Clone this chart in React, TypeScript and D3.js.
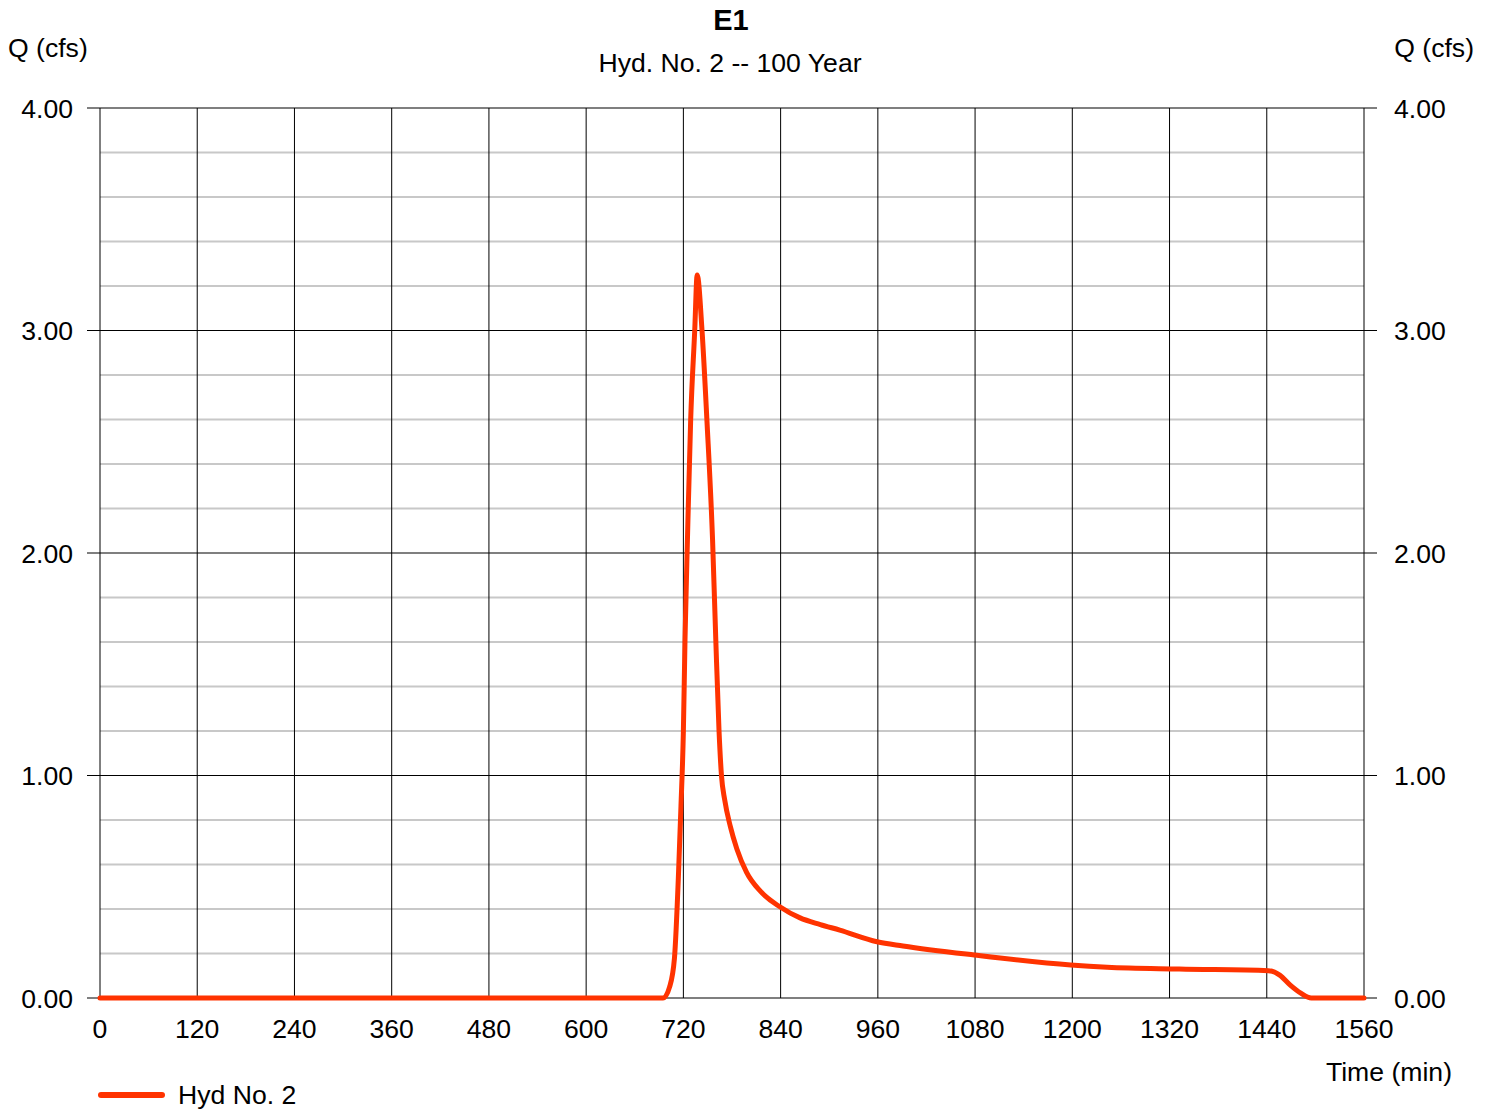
import React from "react";
import * as d3 from "d3";

const title = "E1";
const subtitle = "Hyd. No. 2 -- 100 Year";
const yLabel = "Q (cfs)";
const xLabel = "Time (min)";
const seriesName = "Hyd No. 2";

const xTicks = [0, 120, 240, 360, 480, 600, 720, 840, 960, 1080, 1200, 1320, 1440, 1560];
const yMajor = [0, 1, 2, 3, 4];
const yMinor = [0.2, 0.4, 0.6, 0.8, 1.2, 1.4, 1.6, 1.8, 2.2, 2.4, 2.6, 2.8, 3.2, 3.4, 3.6, 3.8];

const timeMin = [
  0, 695, 703, 709, 714, 717, 720, 722, 725, 729, 734, 737, 743, 749, 756, 760, 764, 767, 771,
  778, 786, 798, 815, 839, 864, 889, 913, 959, 991, 1079, 1198, 1243, 1332, 1442, 1456, 1469,
  1482, 1495, 1560,
];
const flowCfs = [
  0, 0, 0.05, 0.18, 0.56, 0.86, 1.2, 1.61, 2.06, 2.6, 3.0, 3.25, 3.0, 2.6, 2.06, 1.61, 1.2, 1.0, 0.89,
  0.77, 0.67, 0.565, 0.48, 0.41, 0.36, 0.33, 0.305, 0.253, 0.234, 0.193, 0.148, 0.138, 0.13, 0.123,
  0.103, 0.058, 0.022, 0, 0,
];

const W = 1491;
const H = 1110;
const left = 100;
const right = 1364;
const top = 108;
const bottom = 998;
const FONT = "Liberation Sans, Arial, sans-serif";
const RED = "#ff3300";
const FS = 26.6;

export default function App() {
  const x = d3.scaleLinear().domain([0, 1560]).range([left, right]);
  const y = d3.scaleLinear().domain([0, 4]).range([bottom, top]);
  const pts: [number, number][] = timeMin.map((t, i) => [t, flowCfs[i]]);
  const line = d3
    .line<[number, number]>()
    .x((d) => x(d[0]))
    .y((d) => y(d[1]))
    .curve(d3.curveMonotoneX);

  return (
    <svg
      width={W}
      height={H}
      style={{ position: "absolute", left: 0, top: 0, background: "#fff" }}
      fontFamily={FONT}
    >
      <rect x={0} y={0} width={W} height={H} fill="#fff" />
      {yMinor.map((v) => (
        <line key={"mn" + v} x1={left} x2={right} y1={y(v)} y2={y(v)} stroke="#c8c8c8" strokeWidth={2} />
      ))}
      {xTicks.map((t) => (
        <line key={"vx" + t} x1={x(t)} x2={x(t)} y1={top} y2={bottom} stroke="#000" strokeWidth={1} />
      ))}
      {yMajor.map((v) => (
        <line key={"mj" + v} x1={left - 13} x2={right + 13} y1={y(v)} y2={y(v)} stroke="#000" strokeWidth={1.2} />
      ))}
      {yMajor.map((v) => (
        <text key={"yl" + v} x={73} y={y(v)} dy="0.36em" textAnchor="end" fontSize={FS} fill="#000">
          {v.toFixed(2)}
        </text>
      ))}
      {yMajor.map((v) => (
        <text key={"yr" + v} x={1394} y={y(v)} dy="0.36em" textAnchor="start" fontSize={FS} fill="#000">
          {v.toFixed(2)}
        </text>
      ))}
      {xTicks.map((t) => (
        <text key={"xl" + t} x={x(t)} y={1038} textAnchor="middle" fontSize={FS} fill="#000">
          {t}
        </text>
      ))}
      <path d={line(pts) || ""} fill="none" stroke={RED} strokeWidth={5} strokeLinejoin="round" strokeLinecap="round" />
      <text x={731} y={30} textAnchor="middle" fontSize={29} fontWeight="bold" fill="#000">
        {title}
      </text>
      <text x={730} y={72} textAnchor="middle" fontSize={FS} fill="#000">
        {subtitle}
      </text>
      <text x={8} y={57} textAnchor="start" fontSize={FS} fill="#000">
        {yLabel}
      </text>
      <text x={1474} y={57} textAnchor="end" fontSize={FS} fill="#000">
        {yLabel}
      </text>
      <text x={1452} y={1081} textAnchor="end" fontSize={FS} fill="#000">
        {xLabel}
      </text>
      <line x1={101} x2={162} y1={1095} y2={1095} stroke={RED} strokeWidth={6} strokeLinecap="round" />
      <text x={178} y={1104} textAnchor="start" fontSize={FS} fill="#000">
        {seriesName}
      </text>
    </svg>
  );
}
